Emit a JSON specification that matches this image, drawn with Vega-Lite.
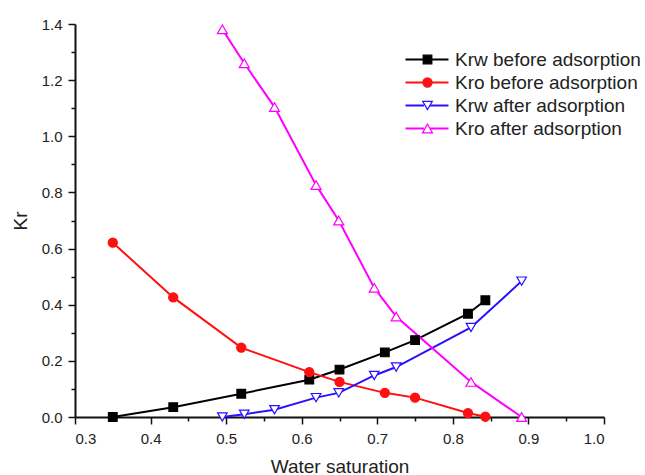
{
  "$schema": "https://vega.github.io/schema/vega-lite/v6.json",
  "autosize": {"type": "none"},
  "padding": {"left": 75, "top": 24, "right": 41, "bottom": 58},
  "width": 529,
  "height": 393,
  "background": "white",
  "config": {
    "view": {"stroke": null},
    "font": "Liberation Sans",
    "axis": {"grid": false, "domainColor": "#111", "domainWidth": 2, "tickColor": "#111", "tickWidth": 1.5, "labelFont": "Liberation Sans", "labelFontSize": 15, "labelColor": "#222", "titleFont": "Liberation Sans", "titleFontSize": 19, "titleFontWeight": "normal", "titleColor": "#222"}
  },
  "data": {"values": [
    {"series": "Krw before adsorption", "sw": 0.35, "kr": 0.0},
    {"series": "Krw before adsorption", "sw": 0.43, "kr": 0.035},
    {"series": "Krw before adsorption", "sw": 0.52, "kr": 0.083},
    {"series": "Krw before adsorption", "sw": 0.61, "kr": 0.133},
    {"series": "Krw before adsorption", "sw": 0.65, "kr": 0.169},
    {"series": "Krw before adsorption", "sw": 0.71, "kr": 0.23},
    {"series": "Krw before adsorption", "sw": 0.75, "kr": 0.274},
    {"series": "Krw before adsorption", "sw": 0.82, "kr": 0.368},
    {"series": "Krw before adsorption", "sw": 0.843, "kr": 0.416},
    {"series": "Kro before adsorption", "sw": 0.35, "kr": 0.621},
    {"series": "Kro before adsorption", "sw": 0.43, "kr": 0.426},
    {"series": "Kro before adsorption", "sw": 0.52, "kr": 0.247},
    {"series": "Kro before adsorption", "sw": 0.61, "kr": 0.16},
    {"series": "Kro before adsorption", "sw": 0.65, "kr": 0.125},
    {"series": "Kro before adsorption", "sw": 0.71, "kr": 0.086},
    {"series": "Kro before adsorption", "sw": 0.75, "kr": 0.069},
    {"series": "Kro before adsorption", "sw": 0.82, "kr": 0.014},
    {"series": "Kro before adsorption", "sw": 0.843, "kr": 0.001},
    {"series": "Krw after adsorption", "sw": 0.495, "kr": 0.0},
    {"series": "Krw after adsorption", "sw": 0.524, "kr": 0.01},
    {"series": "Krw after adsorption", "sw": 0.564, "kr": 0.026},
    {"series": "Krw after adsorption", "sw": 0.619, "kr": 0.069},
    {"series": "Krw after adsorption", "sw": 0.649, "kr": 0.086},
    {"series": "Krw after adsorption", "sw": 0.696, "kr": 0.148},
    {"series": "Krw after adsorption", "sw": 0.725, "kr": 0.178},
    {"series": "Krw after adsorption", "sw": 0.824, "kr": 0.319},
    {"series": "Krw after adsorption", "sw": 0.891, "kr": 0.484},
    {"series": "Kro after adsorption", "sw": 0.495, "kr": 1.381},
    {"series": "Kro after adsorption", "sw": 0.524, "kr": 1.26},
    {"series": "Kro after adsorption", "sw": 0.564, "kr": 1.104},
    {"series": "Kro after adsorption", "sw": 0.619, "kr": 0.826},
    {"series": "Kro after adsorption", "sw": 0.649, "kr": 0.7},
    {"series": "Kro after adsorption", "sw": 0.696, "kr": 0.46},
    {"series": "Kro after adsorption", "sw": 0.725, "kr": 0.358},
    {"series": "Kro after adsorption", "sw": 0.824, "kr": 0.125},
    {"series": "Kro after adsorption", "sw": 0.891, "kr": 0.0}
  ]},
  "resolve": {"axis": {"x": "independent", "y": "independent"}, "legend": {"stroke": "independent"}},
  "layer": [
    {
      "mark": {"type": "line", "strokeWidth": 2},
      "encoding": {
        "x": {"field": "sw", "type": "quantitative", "scale": {"domain": [0.3, 1.0], "nice": false, "zero": false},
          "axis": {"orient": "bottom", "values": [0.3, 0.4, 0.5, 0.6, 0.7, 0.8, 0.9, 1.0], "format": ".1f", "tickSize": 7, "labelPadding": 7, "title": "Water saturation", "titleBaseline": "alphabetic", "titleY": 55}},
        "y": {"field": "kr", "type": "quantitative", "scale": {"domain": [0, 1.4], "nice": false, "zero": false},
          "axis": {"orient": "left", "values": [0, 0.2, 0.4, 0.6, 0.8, 1.0, 1.2, 1.4], "format": ".1f", "tickSize": 7, "labelPadding": 6, "title": "Kr", "titleX": -55, "titleY": 196.5, "titleAngle": -90, "titleBaseline": "middle", "titleAlign": "center"}},
        "stroke": {"field": "series", "type": "nominal",
          "scale": {"domain": ["Krw before adsorption", "Kro before adsorption", "Krw after adsorption", "Kro after adsorption"], "range": ["#000000", "#ff1010", "#2a10ff", "#ff00ff"]},
          "legend": {"orient": "none", "legendX": 342.5, "legendY": 26, "title": null, "symbolType": "M-4.3,0H-0.6M0.6,0H4.3", "symbolSize": 100, "symbolStrokeWidth": 2, "labelFont": "Liberation Sans", "labelFontSize": 19, "labelColor": "#222", "labelOffset": 18.5, "rowPadding": 3, "labelLimit": 400, "symbolOffset": 0, "padding": 0}}
      }
    },
    {
      "mark": {"type": "point", "filled": false, "opacity": 1, "strokeWidth": 1.2},
      "encoding": {
        "x": {"field": "sw", "type": "quantitative",
          "axis": {"orient": "bottom", "values": [0.35, 0.45, 0.55, 0.65, 0.75, 0.85, 0.95], "tickSize": 4, "labels": false, "domain": false, "title": null}},
        "y": {"field": "kr", "type": "quantitative",
          "axis": {"orient": "left", "values": [0.1, 0.3, 0.5, 0.7, 0.9, 1.1, 1.3], "tickSize": 4, "labels": false, "domain": false, "title": null}},
        "color": {"field": "series", "type": "nominal",
          "scale": {"domain": ["Krw before adsorption", "Kro before adsorption", "Krw after adsorption", "Kro after adsorption"], "range": ["#000000", "#ff1010", "#2a10ff", "#ff00ff"]},
          "legend": {"orient": "none", "legendX": 343, "legendY": 26, "title": null, "symbolStrokeWidth": 1.2, "labelFont": "Liberation Sans", "labelFontSize": 19, "labelColor": "transparent", "labelExpr": "' '", "labelOffset": 5, "rowPadding": 3, "labelLimit": 400, "symbolOffset": 0, "padding": 0}},
        "fill": {"field": "series", "type": "nominal",
          "scale": {"domain": ["Krw before adsorption", "Kro before adsorption", "Krw after adsorption", "Kro after adsorption"], "range": ["#000000", "#ff1010", "#ffffff", "#ffffff"]},
          "legend": {"orient": "none", "legendX": 343, "legendY": 26, "title": null, "symbolStrokeWidth": 1.2, "labelFont": "Liberation Sans", "labelFontSize": 19, "labelColor": "transparent", "labelExpr": "' '", "labelOffset": 5, "rowPadding": 3, "labelLimit": 400, "symbolOffset": 0, "padding": 0}},
        "shape": {"field": "series", "type": "nominal",
          "scale": {"domain": ["Krw before adsorption", "Kro before adsorption", "Krw after adsorption", "Kro after adsorption"], "range": ["square", "circle", "triangle-down", "triangle-up"]},
          "legend": {"orient": "none", "legendX": 343, "legendY": 26, "title": null, "symbolStrokeWidth": 1.2, "labelFont": "Liberation Sans", "labelFontSize": 19, "labelColor": "transparent", "labelExpr": "' '", "labelOffset": 5, "rowPadding": 3, "labelLimit": 400, "symbolOffset": 0, "padding": 0}},
        "size": {"field": "series", "type": "nominal",
          "scale": {"domain": ["Krw before adsorption", "Kro before adsorption", "Krw after adsorption", "Kro after adsorption"], "range": [75, 100, 120, 120]},
          "legend": {"orient": "none", "legendX": 343, "legendY": 26, "title": null, "symbolStrokeWidth": 1.2, "labelFont": "Liberation Sans", "labelFontSize": 19, "labelColor": "transparent", "labelExpr": "' '", "labelOffset": 5, "rowPadding": 3, "labelLimit": 400, "symbolOffset": 0, "padding": 0}}
      }
    }
  ]
}
